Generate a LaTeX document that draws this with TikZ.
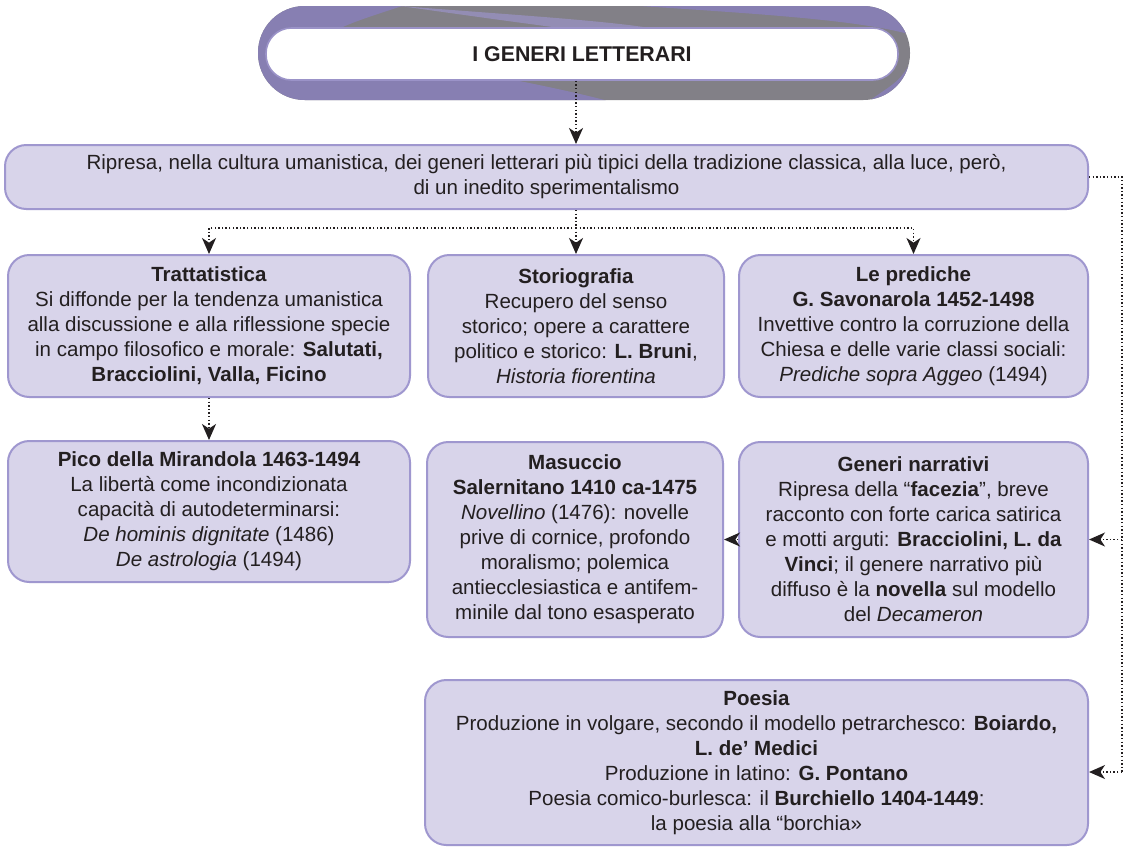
\documentclass[tikz,border=0pt]{standalone}
\usepackage{fontspec}
\setmainfont{Liberation Sans}
\usetikzlibrary{arrows.meta,calc}

\definecolor{boxfill}{HTML}{D8D4EA}
\definecolor{boxline}{HTML}{9F97CF}
\definecolor{ink}{HTML}{231F20}
\definecolor{framepurple}{HTML}{877FB2}
\definecolor{framegray}{HTML}{828087}
\definecolor{framelight}{HTML}{9B93C8}

\newcommand\bodyfont{\fontsize{15.4}{18.75}\selectfont}

\tikzset{
  card/.style={draw=boxline, fill=boxfill, line width=1.5pt, rounded corners=16pt,
    align=center, text=ink, inner sep=0pt, font=\bodyfont},
  conn/.style={ink, line width=1.1pt, dash pattern=on 1.1pt off 1.6pt,
    -{Stealth[length=12pt,width=10.5pt,inset=3.5pt]}},
  rail/.style={ink, line width=1.1pt, dash pattern=on 1.1pt off 1.6pt},
}

\begin{document}
\begin{tikzpicture}[x=0.75pt,y=-0.75pt]
\useasboundingbox (0,0) rectangle (1130,847);
\fill[white] (0,0) rectangle (1130,847);

% title banner: shaded frame around a white capsule
\begin{scope}
  \clip[rounded corners=35pt] (258,6) rectangle (910,100);
  \fill[framegray] (250,0) rectangle (920,110);
  \fill[framepurple] (250,0) -- (420,0) .. controls (380,14) and (340,24) .. (320,40)
    .. controls (450,70) and (560,85) .. (640,110) -- (250,110) -- cycle;
  \fill[framelight, opacity=0.7] (400,6) .. controls (500,14) and (600,20) .. (650,28)
    -- (560,28) .. controls (500,20) .. (400,6);
  \fill[framepurple] (640,6) -- (880,6) .. controls (905,12) .. (912,35)
    .. controls (860,20) and (760,14) .. (640,6);
  \fill[framepurple] (912,60) .. controls (900,80) .. (870,100) -- (912,100) -- cycle;
\end{scope}
\node[draw=framelight, fill=white, line width=1.2pt, rounded corners=19pt,
  minimum width=632*0.75pt, minimum height=52*0.75pt, inner sep=0pt,
  text=ink, font=\fontsize{16}{19}\selectfont\bfseries] (title) at (582,54) {I GENERI LETTERARI};

% boxes
\node[card, minimum width=1083*0.75pt, minimum height=64*0.75pt] (main) at (546.5,177)
  {Ripresa, nella cultura umanistica, dei generi letterari più tipici della tradizione classica, alla luce, però,\\
   di un inedito sperimentalismo};

\node[card, minimum width=402*0.75pt, minimum height=142*0.75pt] (tratt) at (209,326)
  {\textbf{Trattatistica}\\
   Si diffonde per la tendenza umanistica\\
   alla discussione e alla riflessione specie\\
   in campo filosofico e morale: \textbf{Salutati,}\\
   \textbf{Bracciolini, Valla, Ficino}};

\node[card, minimum width=296*0.75pt, minimum height=142*0.75pt] (storio) at (576,326)
  {\textbf{Storiografia}\\
   Recupero del senso\\
   storico; opere a carattere\\
   politico e storico: \textbf{L. Bruni},\\
   \textit{Historia fiorentina}};

\node[card, minimum width=349*0.75pt, minimum height=142*0.75pt] (pred) at (913.5,326)
  {\textbf{Le prediche}\\
   \textbf{G. Savonarola 1452-1498}\\
   Invettive contro la corruzione della\\
   Chiesa e delle varie classi sociali:\\
   \textit{Prediche sopra Aggeo} (1494)};

\node[card, minimum width=402*0.75pt, minimum height=141*0.75pt] (pico) at (209,511.5)
  {\textbf{Pico della Mirandola 1463-1494}\\
   La libertà come incondizionata\\
   capacità di autodeterminarsi:\\
   \textit{De hominis dignitate} (1486)\\
   \textit{De astrologia} (1494)};

\node[card, minimum width=296*0.75pt, minimum height=195*0.75pt] (masuccio) at (575,539.5)
  {\textbf{Masuccio}\\
   \textbf{Salernitano 1410 ca-1475}\\
   \textit{Novellino} (1476): novelle\\
   prive di cornice, profondo\\
   moralismo; polemica\\
   antiecclesiastica e antifem-\\
   minile dal tono esasperato};

\node[card, minimum width=349*0.75pt, minimum height=195*0.75pt] (generi) at (913.5,539.5)
  {\textbf{Generi narrativi}\\
   Ripresa della “\textbf{facezia}”, breve\\
   racconto con forte carica satirica\\
   e motti arguti: \textbf{Bracciolini, L. da}\\
   \textbf{Vinci}; il genere narrativo più\\
   diffuso è la \textbf{novella} sul modello\\
   del \textit{Decameron}};

\node[card, minimum width=663*0.75pt, minimum height=165*0.75pt] (poesia) at (756.5,762.5)
  {\textbf{Poesia}\\
   Produzione in volgare, secondo il modello petrarchesco: \textbf{Boiardo,}\\
   \textbf{L. de’ Medici}\\
   Produzione in latino: \textbf{G. Pontano}\\
   Poesia comico-burlesca: il \textbf{Burchiello 1404-1449}:\\
   la poesia alla “borchia»};

% connectors
\coordinate (split) at (576,228);
\coordinate (railtop) at (1122,177);
\coordinate (railend) at (1122,772);

\draw[conn] (title.south -| storio.north) -- (main.north -| storio.north);
\draw[conn] (main.south -| storio.north) -- (storio.north);
\draw[conn] (split) -| (tratt.north);
\draw[conn] (split) -| (pred.north);
\draw[conn] (tratt.south) -- (pico.north);
\draw[conn] (generi.west) -- (masuccio.east);
\draw[rail] (main.east) -- (railtop) -- (railend);
\draw[conn] (generi.east -| railtop) -- (generi.east);
\draw[conn] (railend) -- (railend -| poesia.east);
\end{tikzpicture}
\end{document}
